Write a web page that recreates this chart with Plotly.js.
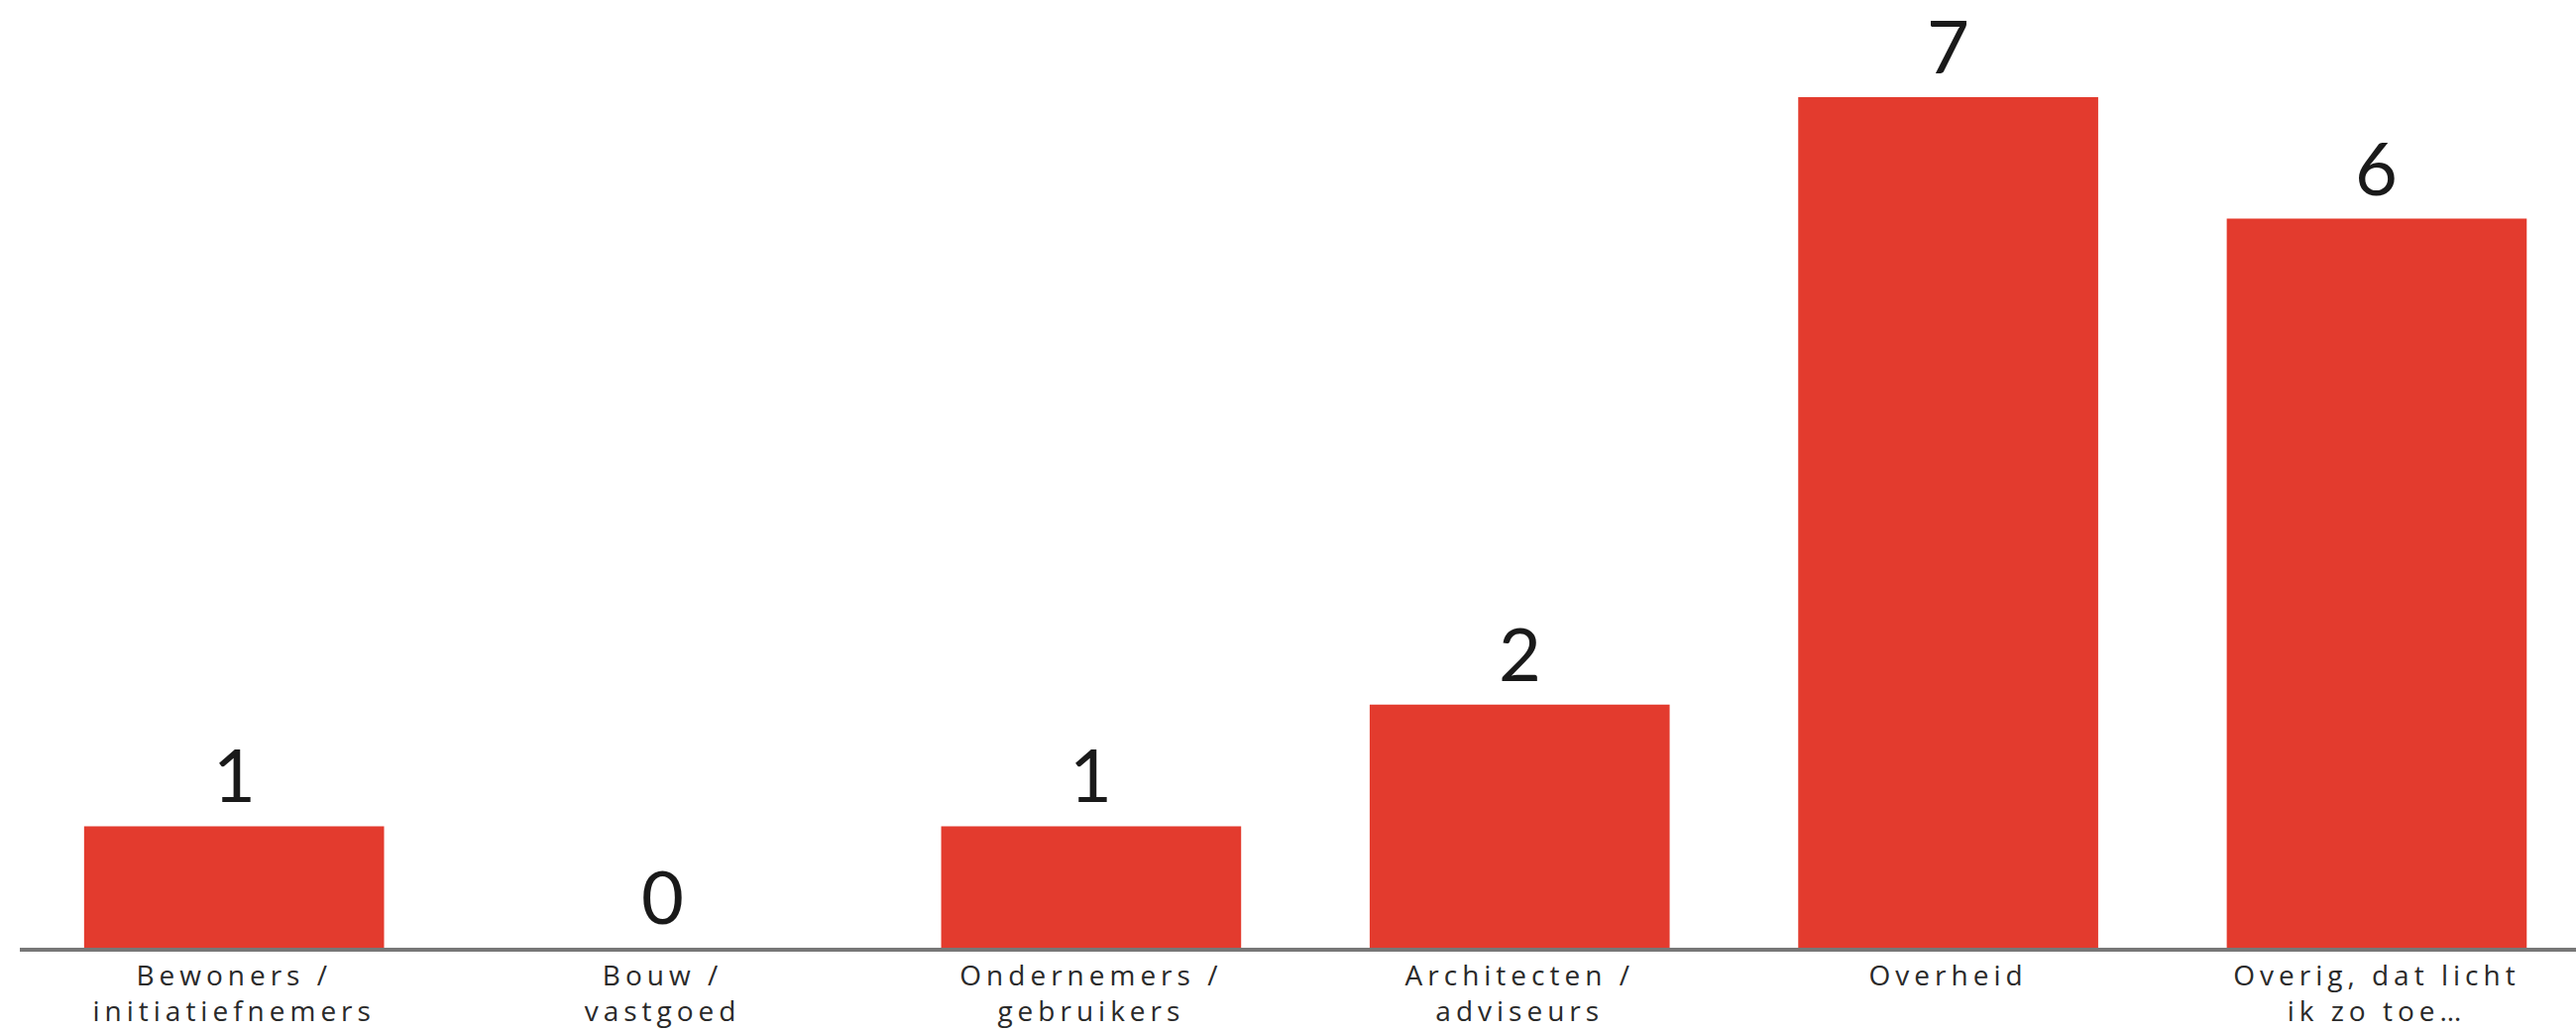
<!DOCTYPE html>
<html>
<head>
<meta charset="utf-8">
<script src="https://cdn.plot.ly/plotly-3.0.1.min.js"></script>
<style>
html,body{margin:0;padding:0;background:#fff;}
#chart{width:2599px;height:1041px;}
#chart .xtick text{letter-spacing:5px;}
</style>
</head>
<body>
<div id="chart"></div>
<script>
const categories = [
  "Bewoners /<br>initiatiefnemers",
  "Bouw /<br>vastgoed",
  "Ondernemers /<br>gebruikers",
  "Architecten /<br>adviseurs",
  "Overheid",
  "Overig, dat licht<br>ik zo toe…"
];
const values = [1, 0, 1, 2, 7, 6];
const valueLabels = ["1", "0", "1", "2", "7", "6"];

const trace = {
  type: "bar",
  x: categories,
  y: values,
  marker: {color: "#E33B2E"},
  hoverinfo: "none"
};

const annotations = categories.map((c, i) => ({
  x: c, y: values[i], xref: "x", yref: "y",
  text: valueLabels[i], showarrow: false,
  yanchor: "bottom", yshift: 6,
  font: {family: "Lato, 'Open Sans', sans-serif", size: 74, color: "#1a1a1a"}
}));

const layout = {
  width: 2599, height: 1041,
  margin: {l: 20, r: 0, t: 0, b: 85},
  paper_bgcolor: "#ffffff", plot_bgcolor: "#ffffff",
  bargap: 0.3,
  showlegend: false,
  xaxis: {
    type: "category",
    range: [-0.5, 5.465],
    showline: true, linecolor: "#777777", linewidth: 4,
    ticks: "", showgrid: false, zeroline: false,
    tickfont: {family: "'Open Sans', Lato, sans-serif", size: 28, color: "#2a2a2a"}
  },
  yaxis: {
    range: [0, 7.8],
    visible: false, showgrid: false, zeroline: false
  },
  annotations: annotations
};

Plotly.newPlot("chart", [trace], layout, {displayModeBar: false, staticPlot: true});
</script>
</body>
</html>
